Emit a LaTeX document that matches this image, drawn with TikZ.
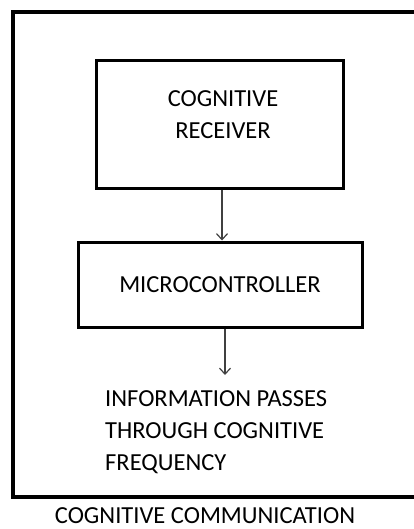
\documentclass[tikz,border=0pt]{standalone}
\usepackage{fontspec}
\setmainfont{Carlito}
\usetikzlibrary{arrows.meta}
\begin{document}
\begin{tikzpicture}[x=1pt,y=-1pt,
  label text/.style={font=\fontsize{24.5}{32}\selectfont, inner sep=0pt},
  blockbox/.style={draw=black, line width=3pt, inner sep=0pt},
  flow/.style={draw=black!75, line width=1.3pt,
    -{Straight Barb[length=6pt,width=11pt,line width=1.2pt]}}]
  \useasboundingbox (0,0) rectangle (413,529);
  % outer frame, open on the right side
  \draw[line width=4pt, line cap=rect] (420,12.5) -- (12.5,12.5) -- (12.5,497) -- (420,497);
  % receiver block
  \node[blockbox, minimum width=247pt, minimum height=128pt] (rx) at (219.5,125) {};
  \node[label text, align=center] (rxtext) at (223,115) {COGNITIVE\\RECEIVER};
  % microcontroller block
  \node[blockbox, minimum width=284pt, minimum height=85pt, label text] (mc) at (220,284.5) {MICROCONTROLLER};
  % resulting information
  \node[label text, align=left, anchor=north west] (info) at (105,390) {INFORMATION PASSES\\THROUGH COGNITIVE\\FREQUENCY};
  \coordinate (infotop) at (225,375);
  % connectors
  \draw[flow] ([xshift=2.5pt]rx.south) -- ([xshift=2.5pt]rx.south |- mc.north);
  \draw[flow] (infotop |- mc.south) -- (infotop);
  % caption
  \node[label text, anchor=base] (caption) at (205,523) {COGNITIVE COMMUNICATION};
\end{tikzpicture}
\end{document}
